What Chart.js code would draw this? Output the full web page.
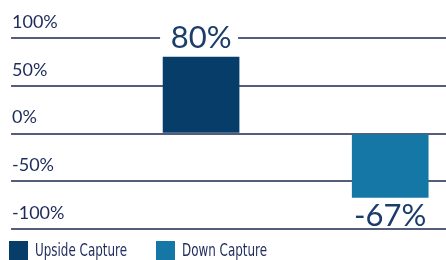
<!DOCTYPE html>
<html>
<head>
<meta charset="utf-8">
<script src="https://cdn.jsdelivr.net/npm/chart.js@4.4.0/dist/chart.umd.min.js"></script>
<style>
  html,body{margin:0;padding:0;background:#fff;}
  #wrap{position:relative;width:446px;height:260px;}
  #legend{position:absolute;left:9px;top:241px;height:19px;font-family:"Liberation Sans Narrow","DejaVu Sans Condensed",Roboto,sans-serif;font-size:17px;color:#1d2a5c;white-space:nowrap;}
  #legend .item{position:absolute;top:0;height:19px;line-height:19px;}
  #legend .box{position:absolute;left:0;top:0;width:19px;height:19px;}
  #legend .txt{position:absolute;left:26px;top:0;transform-origin:left center;display:inline-block;}
</style>
</head>
<body>
<div id="wrap">
  <canvas id="c" width="446" height="260"></canvas>
  <div id="legend"></div>
</div>
<script>
// values
const categories = ['Upside Capture', 'Down Capture'];
const captureValues = [80, -67];
const barColors = ['#073e69', '#1477a5'];
const yTickValues = [-100, -50, 0, 50, 100];

const navy = '#1d2a5c';

// value labels above / below bars, white box knocks out the gridline behind
const valueLabels = {
  id:'valueLabels',
  afterDatasetsDraw(chart){
    const ctx = chart.ctx;
    ctx.save();
    ctx.font = '31px Lato, "Open Sans", sans-serif';
    ctx.textAlign = 'center';
    ctx.textBaseline = 'middle';
    chart.data.datasets.forEach((ds, i) => {
      const bar = chart.getDatasetMeta(i).data[0];
      const v = ds.data[0].y;
      const y = v >= 0 ? bar.y - 19 : bar.y + 19;
      ctx.fillStyle = '#fff';
      ctx.fillRect(bar.x - bar.width/2 - 3, y - 10, bar.width + 2, 20);
      ctx.fillStyle = '#1a3d6a';
      ctx.fillText(Math.round(v) + '%', bar.x, y);
    });
    ctx.restore();
  }
};

const chart = new Chart(document.getElementById('c'), {
  type:'bar',
  data:{
    datasets: categories.map((name, i) => ({
      label:name,
      data:[{x:i, y:captureValues[i]}],
      backgroundColor:barColors[i],
      borderWidth:0,
      barThickness:76,
      grouped:false
    }))
  },
  options:{
    responsive:false,
    animation:false,
    layout:{padding:{left:9, right:0, top:38, bottom:31}},
    scales:{
      x:{type:'linear', display:false, offset:false, min:-1.005, max:1.295},
      y:{
        min:-100, max:100,
        afterBuildTicks(axis){ axis.ticks = yTickValues.map(v => ({value:v})); },
        grid:{color:'#555d7c', lineWidth:2, drawTicks:false},
        border:{display:false},
        ticks:{
          mirror:true, padding:1, labelOffset:-16,
          color:navy, font:{family:'Lato, "Open Sans", sans-serif', size:18},
          callback:v => v + '%'
        }
      }
    },
    plugins:{legend:{display:false}, tooltip:{enabled:false}}
  },
  plugins:[valueLabels]
});

// html legend from the datasets, text squeezed to look condensed
const legendEl = document.getElementById('legend');
const legendX = [0, 147];
const legendTextW = [92, 85];
chart.data.datasets.forEach((ds, i) => {
  const item = document.createElement('div');
  item.className = 'item';
  item.style.left = legendX[i] + 'px';
  item.innerHTML = '<span class="box" style="background:' + ds.backgroundColor + '"></span><span class="txt">' + ds.label + '</span>';
  legendEl.appendChild(item);
  const txt = item.querySelector('.txt');
  const w = txt.getBoundingClientRect().width;
  txt.style.transform = 'scaleX(' + (legendTextW[i] / w) + ')';
});
</script>
</body>
</html>
